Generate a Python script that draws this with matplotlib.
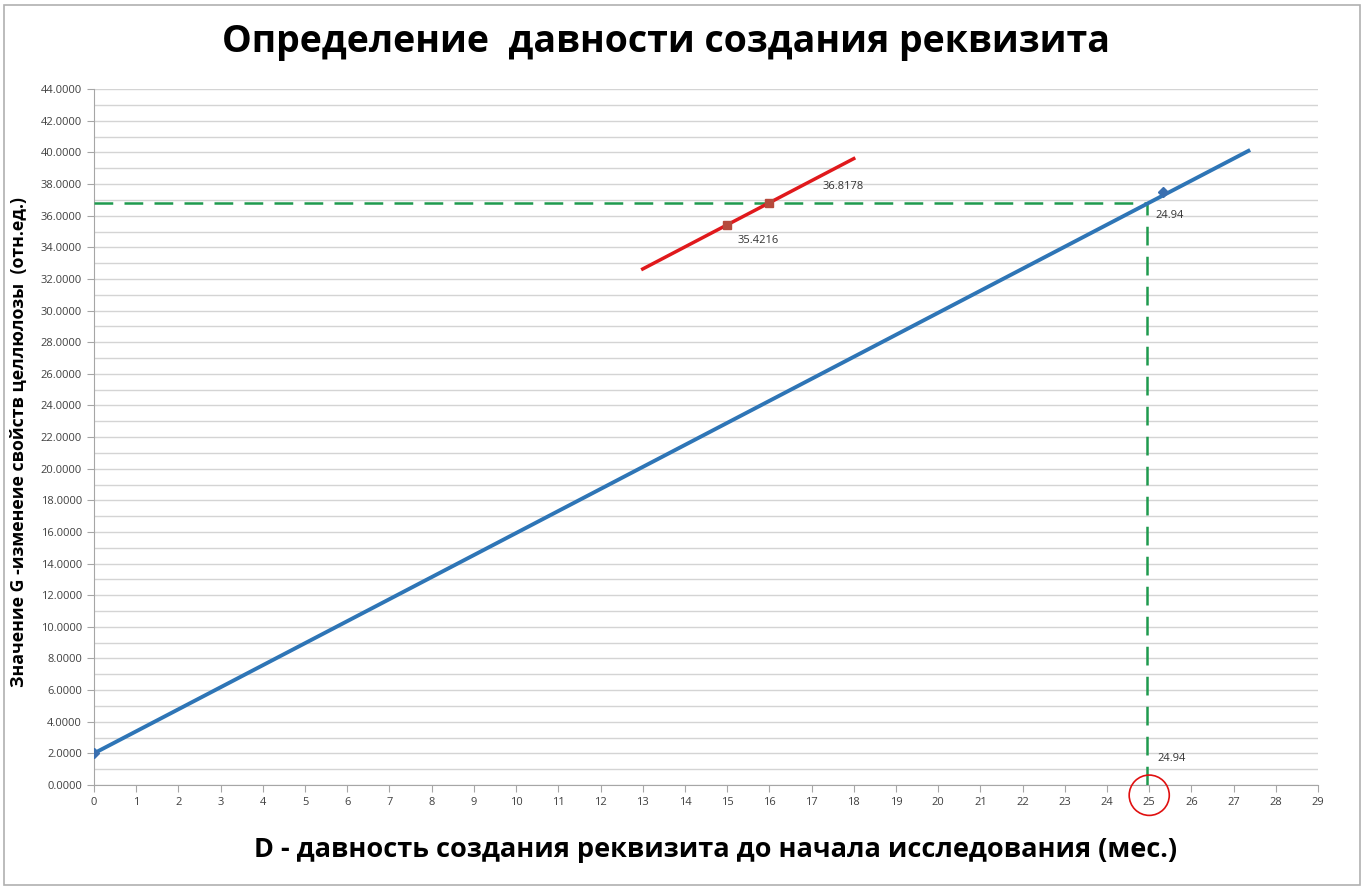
import matplotlib
matplotlib.use("Agg")
import matplotlib.pyplot as plt
from matplotlib.patches import Ellipse, Rectangle
from matplotlib.ticker import MultipleLocator, FormatStrFormatter

plt.rcParams['font.family'] = ['Open Sans', 'DejaVu Sans']

# данные
blue_x = [0, 25.33]
blue_y = [2.0, 37.48]
blue_trend_x = [0, 27.35]
blue_trend_y = [2.0, 40.1]

red_x = [15, 16]
red_y = [35.4216, 36.8178]
red_trend_x = [13, 18]
red_trend_y = [32.63, 39.61]

cross_x = 24.94
cross_y = 36.8178

title = 'Определение  давности создания реквизита'
xlabel = 'D - давность создания реквизита до начала исследования (мес.)'
ylabel = 'Значение G -изменеие свойств целлюлозы  (отн.ед.)'

fig = plt.figure(figsize=(13.68, 8.92), dpi=100)
ax = fig.add_axes([0.0687, 0.120, 0.8948, 0.780])

# рамка диаграммы
fig.patches.append(Rectangle((0.003, 0.008), 0.991, 0.986, transform=fig.transFigure,
                             fill=False, edgecolor='#b0b0b0', linewidth=1.2))

# направляющие
dash = (0, (7.5, 4.5))
ax.plot([0, cross_x], [cross_y, cross_y], color='#1f9a4e', linestyle=dash,
        linewidth=1.8, zorder=3)
ax.plot([cross_x, cross_x], [0, cross_y], color='#1f9a4e', linestyle=dash,
        linewidth=1.8, zorder=3)

# линии тренда и точки
ax.plot(blue_trend_x, blue_trend_y, color='#2e75b6', linewidth=2.8, zorder=4)
ax.plot(blue_x, blue_y, linestyle='none', marker='D', markersize=5,
        color='#3a6fb0', zorder=5)
ax.plot(red_trend_x, red_trend_y, color='#e0191c', linewidth=2.5, zorder=4)
ax.plot(red_x, red_y, linestyle='none', marker='s', markersize=6,
        color='#b54a3c', zorder=5)

# подписи значений
lab = dict(fontsize=8, color='#333333', zorder=6)
ax.text(red_x[1] + 1.25, red_y[1] + 1.0, f'{red_y[1]:.4f}', ha='left', va='center', **lab)
ax.text(red_x[0] + 0.25, red_y[0] - 1.0, f'{red_y[0]:.4f}', ha='left', va='center', **lab)
ax.text(cross_x + 0.2, cross_y - 0.8, f'{cross_x:.2f}', ha='left', va='center', **lab)
ax.text(cross_x + 0.25, 1.7, f'{cross_x:.2f}', ha='left', va='center', **lab)

# красный кружок вокруг метки 25
ax.add_patch(Ellipse((25, -0.65), 0.95, 2.55, fill=False, edgecolor='#e01010',
                     linewidth=1.2, clip_on=False, zorder=7))

ax.set_xlim(0, 29)
ax.set_ylim(0, 44)
ax.xaxis.set_major_locator(MultipleLocator(1))
ax.yaxis.set_major_locator(MultipleLocator(2))
ax.yaxis.set_minor_locator(MultipleLocator(1))
ax.yaxis.set_major_formatter(FormatStrFormatter('%.4f'))
ax.grid(True, which='both', axis='y', color='#d4d4d4', linewidth=1)
ax.set_axisbelow(True)

for s in ['top', 'right']:
    ax.spines[s].set_visible(False)
for s in ['left', 'bottom']:
    ax.spines[s].set_color('#a6a6a6')
ax.tick_params(axis='both', which='major', labelsize=8, labelcolor='#404040',
               color='#a6a6a6', length=5, direction='out')
ax.tick_params(axis='y', which='minor', length=0)

fig.text(0.487, 0.953, title, ha='center', va='center', fontsize=27, fontweight='bold')
fig.text(0.523, 0.047, xlabel, ha='center', va='center', fontsize=19.5, fontweight='bold')
fig.text(0.014, 0.505, ylabel, ha='center', va='center', rotation=90,
         fontsize=12.8, fontweight='bold')

fig.savefig('out.png', dpi=100)
